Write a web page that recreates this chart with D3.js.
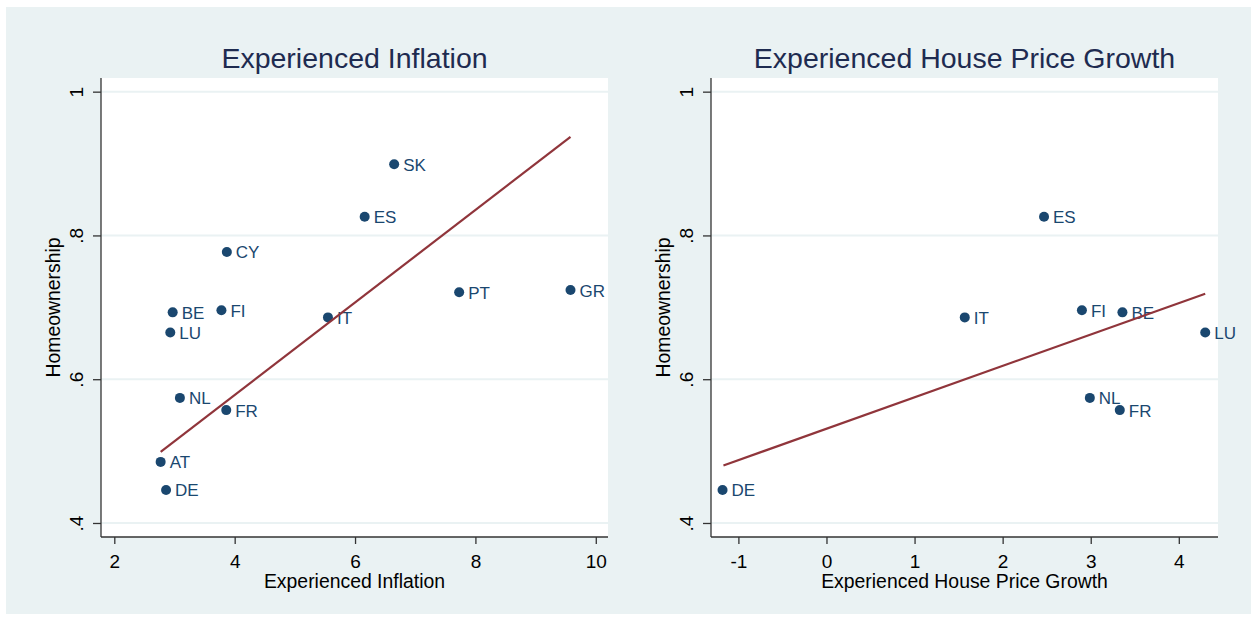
<!DOCTYPE html>
<html>
<head>
<meta charset="utf-8">
<script src="https://cdn.jsdelivr.net/npm/d3@7"></script>
<style>
  html, body { margin: 0; padding: 0; background: #ffffff; }
  svg { display: block; font-family: "Liberation Sans", Arial, sans-serif; }
</style>
</head>
<body>
<svg id="chart" width="1251" height="625"></svg>
<script>
// Panel 1: experienced inflation vs. homeownership
const inflCountries = ["SK", "ES", "CY", "PT", "GR", "BE", "FI", "IT", "LU", "NL", "FR", "AT", "DE"];
const inflValues    = [6.65, 6.16, 3.87, 7.73, 9.58, 2.97, 3.78, 5.55, 2.93, 3.09, 3.86, 2.77, 2.86];
const inflOwnership = [0.899, 0.826, 0.777, 0.721, 0.724, 0.693, 0.696, 0.686, 0.665, 0.574, 0.557, 0.485, 0.446];
const inflFitX = [2.77, 9.58];
const inflFitY = [0.499, 0.937];
const inflTicks = [2, 4, 6, 8, 10];

// Panel 2: experienced house price growth vs. homeownership
const hpgCountries = ["ES", "IT", "FI", "BE", "LU", "NL", "FR", "DE"];
const hpgValues    = [2.47, 1.57, 2.90, 3.36, 4.30, 2.99, 3.33, -1.18];
const hpgOwnership = [0.826, 0.686, 0.696, 0.693, 0.665, 0.574, 0.557, 0.446];
const hpgFitX = [-1.17, 4.30];
const hpgFitY = [0.480, 0.719];
const hpgTicks = [-1, 0, 1, 2, 3, 4];

const yTicks = [0.4, 0.6, 0.8, 1];
const yTickLabels = [".4", ".6", ".8", "1"];

const BG = "#eaf2f3";
const NAVY = "#1a476f";
const MAROON = "#90353b";
const FONT = "Liberation Sans, Arial, sans-serif";

const svg = d3.select("#chart");

// outer graph region
svg.append("rect")
  .attr("x", 6).attr("y", 7).attr("width", 1245).attr("height", 607)
  .attr("fill", BG);

function panel(opts) {
  const { left, right, top, bottom, xDomain, title, xTitle,
          xs, ys, names, fitX, fitY, xTicks } = opts;
  const x = d3.scaleLinear().domain(xDomain).range([left, right]);
  const y = d3.scaleLinear().domain([0.3805, 1.019]).range([bottom, top]);
  const g = svg.append("g");

  // plot region
  g.append("rect")
    .attr("x", left).attr("y", top)
    .attr("width", right - left).attr("height", bottom - top)
    .attr("fill", "#ffffff");

  // horizontal grid
  g.selectAll("line.grid").data(yTicks).join("line")
    .attr("class", "grid")
    .attr("x1", left).attr("x2", right)
    .attr("y1", d => y(d)).attr("y2", d => y(d))
    .attr("stroke", BG).attr("stroke-width", 2);

  // y axis
  const yAxis = g.append("g")
    .attr("transform", `translate(${left},0)`)
    .call(d3.axisLeft(y).tickValues(yTicks)
      .tickFormat((d, i) => yTickLabels[i]).tickSize(8).tickSizeOuter(0));
  yAxis.select(".domain").attr("stroke", "#333").attr("stroke-width", 1.3)
    .attr("d", `M0,${top}V${bottom}`);
  yAxis.selectAll(".tick line").attr("stroke", "#333").attr("stroke-width", 1.3);
  yAxis.selectAll(".tick text")
    .attr("x", 0).attr("y", 0).attr("dy", null)
    .attr("transform", "translate(-18,0) rotate(-90)")
    .attr("text-anchor", "middle")
    .attr("font-size", 19).attr("fill", "#000")
    .attr("font-family", FONT);

  // x axis
  const xAxis = g.append("g")
    .attr("transform", `translate(0,${bottom})`)
    .call(d3.axisBottom(x).tickValues(xTicks).tickFormat(d => String(d))
      .tickSize(7).tickSizeOuter(0));
  xAxis.select(".domain").attr("stroke", "#333").attr("stroke-width", 1.3)
    .attr("d", `M${left},0H${right}`);
  xAxis.selectAll(".tick line").attr("stroke", "#333").attr("stroke-width", 1.3);
  xAxis.selectAll(".tick text")
    .attr("y", 31).attr("dy", null)
    .attr("font-size", 19).attr("fill", "#000")
    .attr("font-family", FONT);

  // titles
  g.append("text")
    .attr("x", (left + right) / 2).attr("y", 68)
    .attr("text-anchor", "middle")
    .attr("font-size", 28.5).attr("fill", "#1e2b50")
    .text(title);
  g.append("text")
    .attr("x", (left + right) / 2).attr("y", 588)
    .attr("text-anchor", "middle")
    .attr("font-size", 19.4).attr("fill", "#000")
    .text(xTitle);
  g.append("text")
    .attr("transform", `translate(${left - 41},${(top + bottom) / 2}) rotate(-90)`)
    .attr("text-anchor", "middle")
    .attr("font-size", 19.4).attr("fill", "#000")
    .text("Homeownership");

  // points and labels
  const pts = names.map((n, i) => ({ n, x: xs[i], y: ys[i] }));
  g.selectAll("circle.pt").data(pts).join("circle")
    .attr("class", "pt")
    .attr("cx", d => x(d.x)).attr("cy", d => y(d.y))
    .attr("r", 5).attr("fill", NAVY);
  g.selectAll("text.lbl").data(pts).join("text")
    .attr("class", "lbl")
    .attr("x", d => x(d.x) + 9).attr("y", d => y(d.y) + 6.5)
    .attr("font-size", 17).attr("fill", NAVY)
    .text(d => d.n);

  // fitted line
  g.append("path")
    .datum(fitX.map((v, i) => [v, fitY[i]]))
    .attr("d", d3.line().x(d => x(d[0])).y(d => y(d[1])))
    .attr("fill", "none").attr("stroke", MAROON).attr("stroke-width", 2.2);
}

panel({
  left: 101, right: 608, top: 78, bottom: 537,
  xDomain: [1.779, 10.203],
  title: "Experienced Inflation", xTitle: "Experienced Inflation",
  xs: inflValues, ys: inflOwnership, names: inflCountries,
  fitX: inflFitX, fitY: inflFitY, xTicks: inflTicks
});

panel({
  left: 711, right: 1218, top: 78, bottom: 537,
  xDomain: [-1.311, 4.445],
  title: "Experienced House Price Growth", xTitle: "Experienced House Price Growth",
  xs: hpgValues, ys: hpgOwnership, names: hpgCountries,
  fitX: hpgFitX, fitY: hpgFitY, xTicks: hpgTicks
});
</script>
</body>
</html>
